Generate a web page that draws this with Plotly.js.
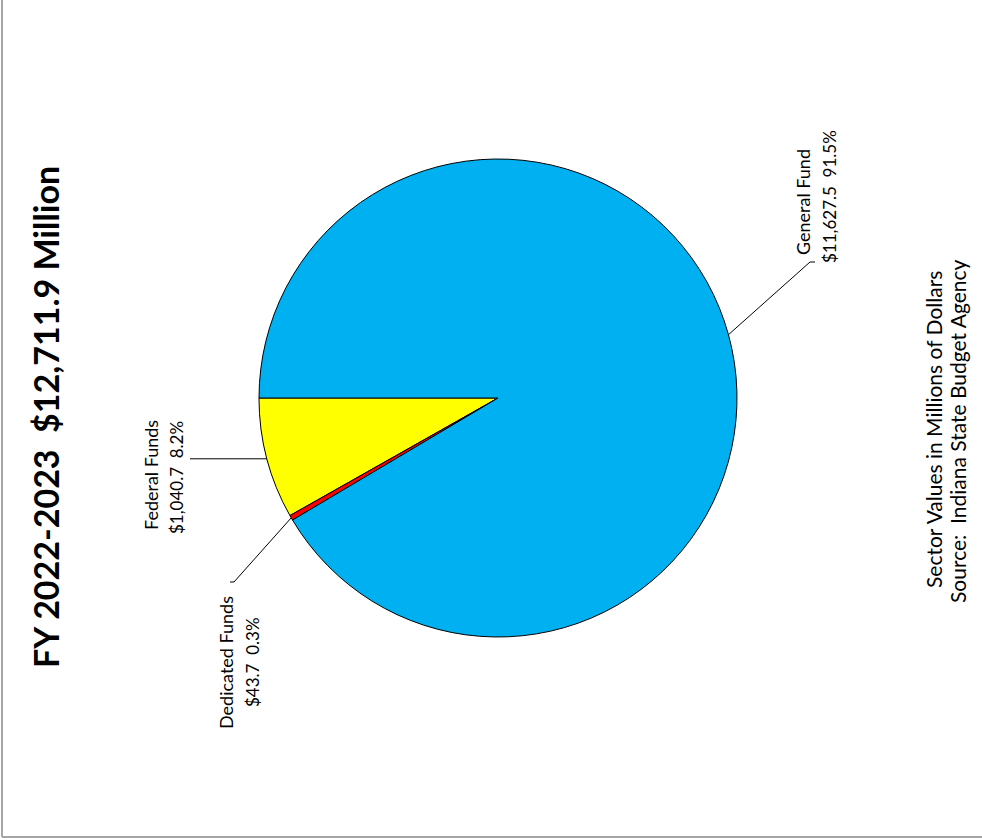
<!DOCTYPE html>
<html>
<head>
<meta charset="utf-8">
<script src="https://cdn.plot.ly/plotly-3.0.1.min.js"></script>
<style>html,body{margin:0;padding:0;background:#fff;}#chart{width:982px;height:840px;}</style>
</head>
<body>
<div id="chart"></div>
<script>
// ---- data ----
const categories = ["Federal Funds", "Dedicated Funds", "General Fund"];
const values = [1040.7, 43.7, 11627.5];
const valueLabels = ["$1,040.7  8.2%", "$43.7  0.3%", "$11,627.5  91.5%"];
const colors = ["#FFFF00", "#FF0000", "#00B0F0"];
const titleText = "FY 2022-2023  $12,711.9 Million";
const noteLines = ["Sector Values in Millions of Dollars", "Source:  Indiana State Budget Agency"];

// ---- layout geometry (pixels) ----
const W = 982, H = 840;
const cx = 498, cy = 398, R = 239;
const px = x => x / W;
const py = y => 1 - y / H;
const keepSpaces = s => s.replace(/  /g, ' \u00A0');

// label positions (pixel centers) for the rotated text lines
const labelPos = [
  {name: [151, 475], val: [176, 478]},
  {name: [226, 663], val: [252, 662]},
  {name: [803, 202], val: [829, 197]}
];
// leader line end paths (pixel)
const leaderEnds = [
  [[190, null]],
  [[234, 582], [230, 582]],
  [[810, 262], [815, 262]]
];

// compute slice mid-angles (start at 9 o'clock, going down / counterclockwise)
const total = values.reduce((a, b) => a + b, 0);
let cum = 0;
const shapes = [];
values.forEach((v, i) => {
  const mid = Math.PI + 2 * Math.PI * (cum + v / 2) / total;
  cum += v;
  const sx = cx + R * Math.cos(mid);
  const sy = cy - R * Math.sin(mid);
  let d = `M${px(sx)},${py(sy)}`;
  leaderEnds[i].forEach(p => {
    const ex = p[0], ey = p[1] === null ? sy : p[1];
    d += ` L${px(ex)},${py(ey)}`;
  });
  shapes.push({type: 'path', xref: 'paper', yref: 'paper', path: d, line: {color: '#000', width: 1}});
});
// outer frame lines (left and bottom)
shapes.push({type: 'line', xref: 'paper', yref: 'paper', x0: px(2), x1: px(2), y0: py(0), y1: py(837), line: {color: '#a6a6a6', width: 2}});
shapes.push({type: 'line', xref: 'paper', yref: 'paper', x0: px(2), x1: px(982), y0: py(837), y1: py(837), line: {color: '#a6a6a6', width: 2}});

const font = {family: 'Lato, "Open Sans", sans-serif', color: '#000'};
const annotations = [];
categories.forEach((c, i) => {
  annotations.push({xref: 'paper', yref: 'paper', x: px(labelPos[i].name[0]), y: py(labelPos[i].name[1]),
    text: keepSpaces(c), showarrow: false, textangle: -90, xanchor: 'center', yanchor: 'middle',
    font: Object.assign({size: 18}, font)});
  annotations.push({xref: 'paper', yref: 'paper', x: px(labelPos[i].val[0]), y: py(labelPos[i].val[1]),
    text: keepSpaces(valueLabels[i]), showarrow: false, textangle: -90, xanchor: 'center', yanchor: 'middle',
    font: Object.assign({size: 17}, font)});
});
annotations.push({xref: 'paper', yref: 'paper', x: px(45), y: py(417), text: '<b>' + keepSpaces(titleText) + '</b>',
  showarrow: false, textangle: -90, xanchor: 'center', yanchor: 'middle', font: Object.assign({size: 34}, font)});
annotations.push({xref: 'paper', yref: 'paper', x: px(934), y: py(430), text: keepSpaces(noteLines[0]),
  showarrow: false, textangle: -90, xanchor: 'center', yanchor: 'middle', font: Object.assign({size: 21}, font)});
annotations.push({xref: 'paper', yref: 'paper', x: px(958), y: py(431), text: keepSpaces(noteLines[1]),
  showarrow: false, textangle: -90, xanchor: 'center', yanchor: 'middle', font: Object.assign({size: 21}, font)});

// Plotly: with counterclockwise direction the first slice spans [rotation, rotation + v1] (clockwise from 12 o'clock),
// so subtract the first slice to make it start at 9 o'clock and extend downward.
const rotation = 270 - 360 * values[0] / total;

const trace = {
  type: 'pie',
  labels: categories,
  values: values,
  sort: false,
  direction: 'counterclockwise',
  rotation: rotation,
  textposition: 'none',
  hoverinfo: 'skip',
  marker: {colors: colors, line: {color: '#000', width: 1}},
  domain: {x: [px(cx - R), px(cx + R)], y: [py(cy + R), py(cy - R)]}
};

Plotly.newPlot('chart', [trace], {
  width: W, height: H,
  margin: {l: 0, r: 0, t: 0, b: 0},
  showlegend: false,
  paper_bgcolor: '#fff',
  shapes: shapes,
  annotations: annotations
}, {staticPlot: true});
</script>
</body>
</html>
